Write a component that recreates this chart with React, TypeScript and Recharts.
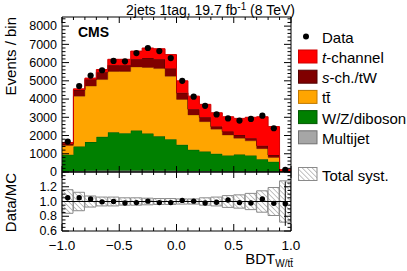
import React from 'react';
import { ComposedChart, Area, Scatter, XAxis, YAxis, Bar, Line, ErrorBar, ReferenceLine } from 'recharts';

const FONT = "'Liberation Sans', Arial, Helvetica, sans-serif";

// ---- data (20 bins of BDT_W/tt, width 0.1) ----
const binLowEdges = [-1.0, -0.9, -0.8, -0.7, -0.6, -0.5, -0.4, -0.3, -0.2, -0.1, 0.0, 0.1, 0.2, 0.3, 0.4, 0.5, 0.6, 0.7, 0.8, 0.9];
const upperEdge = 1.0;
const binCenters = [-0.95, -0.85, -0.75, -0.65, -0.55, -0.45, -0.35, -0.25, -0.15, -0.05, 0.05, 0.15, 0.25, 0.35, 0.45, 0.55, 0.65, 0.75, 0.85, 0.95];

const multijet = [40, 60, 70, 80, 80, 80, 80, 80, 70, 70, 60, 50, 50, 40, 40, 40, 40, 30, 30, 5];
const wzDiboson = [910, 1340, 1570, 1850, 2100, 2050, 2190, 2030, 1890, 1730, 1430, 1170, 1070, 960, 870, 920, 870, 670, 530, 15];
const ttbar = [500, 2760, 3070, 3140, 3330, 3380, 3490, 3620, 3710, 3450, 2490, 1910, 1640, 1350, 1120, 890, 800, 580, 240, 30];
const sChTW = [100, 340, 360, 400, 340, 340, 420, 520, 510, 420, 360, 310, 240, 140, 190, 180, 140, 160, 130, 10];
const tChannel = [70, 60, 80, 150, 330, 330, 450, 550, 580, 770, 660, 720, 710, 760, 810, 910, 1150, 1590, 1560, 70];
const dataEvents = [1670, 4710, 5290, 5580, 6090, 6070, 6520, 6800, 6630, 6250, 5000, 4130, 3630, 3160, 2940, 2820, 2910, 3090, 2400, 120];

const ratioValues = [1.05, 1.05, 1.035, 0.995, 1.0, 0.98, 0.985, 1.005, 0.985, 0.985, 1.015, 1.005, 0.98, 0.99, 1.02, 0.985, 0.98, 1.035, 0.975, 0.97];
const ratioErr = [0.03, 0.015, 0.015, 0.015, 0.013, 0.013, 0.012, 0.012, 0.012, 0.013, 0.014, 0.016, 0.017, 0.018, 0.019, 0.019, 0.019, 0.02, 0.022, 0.3];
const systHalf = [0.16, 0.125, 0.075, 0.06, 0.06, 0.05, 0.05, 0.045, 0.04, 0.04, 0.035, 0.035, 0.05, 0.06, 0.08, 0.09, 0.11, 0.145, 0.19, 0.28];

// ---- ticks ----
const xTicks = Array.from({ length: 21 }, (_, i) => Math.round((-1 + i * 0.1) * 10) / 10);
const mainYTicks = Array.from({ length: 43 }, (_, i) => i * 200);
const ratioYTicks = Array.from({ length: 17 }, (_, i) => Math.round((0.6 + i * 0.05) * 100) / 100);

const COLORS = {
  tch: { fill: '#ff0000', stroke: '#d00000' },
  sch: { fill: '#800000', stroke: '#500000' },
  tt: { fill: '#ffa500', stroke: '#c07800' },
  wz: { fill: '#008000', stroke: '#005800' },
  mj: { fill: '#a6a6a6', stroke: '#707070' },
};

const stackRows = [...binLowEdges, upperEdge].map((x, i) => {
  const j = Math.min(i, binLowEdges.length - 1);
  return { x, mj: multijet[j], wz: wzDiboson[j], tt: ttbar[j], sch: sChTW[j], tch: tChannel[j] };
});
const dataPts = binCenters.map((x, i) => ({ x, y: dataEvents[i] }));
const ratioRows = binCenters.map((x, i) => ({
  c: String(i),
  x,
  band: [1 - systHalf[i], 1 + systHalf[i]],
  r: ratioValues[i],
  err: ratioErr[i],
}));

const isMult = (v: number, step: number) => Math.abs(v / step - Math.round(v / step)) < 1e-6;
const minus = (s: string) => s.replace('-', '\u2212');

type TickOpts = { side: 'l' | 'r' | 't' | 'b'; major: (v: number) => boolean; majLen: number; minLen: number; fmt?: (v: number) => string; fontSize?: number; dy?: number };
const makeTick = (o: TickOpts) => (p: any) => {
  const { x, y, payload } = p;
  const v = payload.value as number;
  const M = o.major(v);
  const len = M ? o.majLen : o.minLen;
  let x2 = x, y2 = y;
  if (o.side === 'l') x2 = x + len;
  if (o.side === 'r') x2 = x - len;
  if (o.side === 'b') y2 = y - len;
  if (o.side === 't') y2 = y + len;
  let label: any = null;
  if (M && o.fmt) {
    if (o.side === 'l') {
      label = <text x={x - 5} y={y} dy={`${o.dy ?? 0.35}em`} textAnchor="end" fontSize={o.fontSize} fontFamily={FONT} fill="#000">{o.fmt(v)}</text>;
    } else if (o.side === 'b') {
      label = <text x={x} y={y + (o.dy ?? 16)} textAnchor="middle" fontSize={o.fontSize} fontFamily={FONT} fill="#000">{o.fmt(v)}</text>;
    }
  }
  return (
    <g>
      <line x1={x} y1={y} x2={x2} y2={y2} stroke="#000" strokeWidth={1} />
      {label}
    </g>
  );
};

const axisCommon = { tickLine: false, tickSize: 0, tickMargin: 0, interval: 0 as const, axisLine: { stroke: '#000', strokeWidth: 1 }, allowDataOverflow: true };

const DataDot = (p: any) => <circle cx={p.cx} cy={p.cy} r={3.1} fill="#000" />;
const RatioDot = (p: any) => (p.cx == null ? <g key={p.index} /> : <circle key={p.index} cx={p.cx} cy={p.cy} r={2.7} fill="#000" />);

const legendItems = [
  { key: 'tch', label: [<tspan key="a" fontStyle="italic">t</tspan>, '-channel'] },
  { key: 'sch', label: [<tspan key="a" fontStyle="italic">s</tspan>, '-ch./tW'] },
  { key: 'tt', label: ['t', 't\u0304'] },
  { key: 'wz', label: ['W/Z/diboson'] },
  { key: 'mj', label: ['Multijet'] },
];

// plot frames: main x 62..291, y 17..172 ; ratio y 172..231
export default function App() {
  const xMajor = (v: number) => isMult(v, 0.5);
  return (
    <div style={{ position: 'absolute', left: 0, top: 0, width: 407, height: 271, background: '#fff', overflow: 'hidden' }}>
      <div style={{ position: 'absolute', left: 0, top: 0 }}>
        <ComposedChart width={407} height={271} data={stackRows} margin={{ top: 16, right: 115, bottom: 98, left: 61 }}>
          <XAxis xAxisId="b" dataKey="x" type="number" domain={[-1, 1]} ticks={xTicks} height={1} {...axisCommon}
            tick={makeTick({ side: 'b', major: xMajor, majLen: 6, minLen: 3 })} />
          <XAxis xAxisId="t" orientation="top" dataKey="x" type="number" domain={[-1, 1]} ticks={xTicks} height={1} {...axisCommon}
            tick={makeTick({ side: 't', major: xMajor, majLen: 6, minLen: 3 })} />
          <YAxis yAxisId="l" type="number" domain={[0, 8500]} ticks={mainYTicks} width={1} {...axisCommon}
            tick={makeTick({ side: 'l', major: (v) => isMult(v, 1000), majLen: 7, minLen: 3.5, fmt: (v) => String(v), fontSize: 12.5 })} />
          <YAxis yAxisId="r" orientation="right" type="number" domain={[0, 8500]} ticks={mainYTicks} width={1} {...axisCommon}
            tick={makeTick({ side: 'r', major: (v) => isMult(v, 1000), majLen: 7, minLen: 3.5 })} />
          {(['mj', 'wz', 'tt', 'sch', 'tch'] as const).map((k) => (
            <Area key={k} xAxisId="b" yAxisId="l" dataKey={k} stackId="s" type="stepAfter"
              fill={COLORS[k].fill} fillOpacity={1} stroke={COLORS[k].stroke} strokeWidth={1}
              dot={false} activeDot={false} isAnimationActive={false} />
          ))}
          <Scatter xAxisId="b" yAxisId="l" data={dataPts} dataKey="y" shape={DataDot} isAnimationActive={false} />
        </ComposedChart>
      </div>
      <div style={{ position: 'absolute', left: 0, top: 0 }}>
        <ComposedChart width={407} height={271} data={ratioRows} margin={{ top: 171, right: 115, bottom: 39, left: 61 }} barCategoryGap={0} barGap={0}>
          <XAxis xAxisId="cat" dataKey="c" type="category" hide />
          <XAxis xAxisId="b" dataKey="x" type="number" domain={[-1, 1]} ticks={xTicks} height={1} {...axisCommon}
            tick={makeTick({ side: 'b', major: xMajor, majLen: 7, minLen: 3.5, fmt: (v) => minus(v.toFixed(1)), fontSize: 13.5, dy: 19 })} />
          <XAxis xAxisId="t" orientation="top" dataKey="x" type="number" domain={[-1, 1]} ticks={xTicks} height={1} {...axisCommon}
            tick={makeTick({ side: 't', major: xMajor, majLen: 6, minLen: 3 })} />
          <YAxis yAxisId="l" type="number" domain={[0.6, 1.4]} ticks={ratioYTicks} width={1} {...axisCommon}
            tick={makeTick({ side: 'l', major: (v) => isMult(v, 0.2) && v < 1.39, majLen: 7, minLen: 3.5, fmt: (v) => v.toFixed(1), fontSize: 12.5, dy: 0.32 })} />
          <YAxis yAxisId="r" orientation="right" type="number" domain={[0.6, 1.4]} ticks={ratioYTicks} width={1} {...axisCommon}
            tick={makeTick({ side: 'r', major: (v) => isMult(v, 0.2) && v < 1.39, majLen: 7, minLen: 3.5 })} />
          <Bar xAxisId="cat" yAxisId="l" dataKey="band" fill="url(#hatchSyst)" stroke="#8a8a8a" strokeWidth={1} isAnimationActive={false} />
          <ReferenceLine xAxisId="b" yAxisId="l" y={1} stroke="#000" strokeWidth={1} ifOverflow="visible" />
          <Line xAxisId="cat" yAxisId="l" dataKey="r" stroke="none" strokeWidth={0} dot={RatioDot} activeDot={false} isAnimationActive={false}>
            <ErrorBar dataKey="err" direction="y" width={0} stroke="#000" strokeWidth={1} />
          </Line>
        </ComposedChart>
      </div>
      <svg width={407} height={271} style={{ position: 'absolute', left: 0, top: 0, pointerEvents: 'none' }} fontFamily={FONT}>
        <defs>
          <pattern id="hatchSyst" patternUnits="userSpaceOnUse" width="3.5" height="3.5" patternTransform="rotate(-45)">
            <rect width="3.5" height="3.5" fill="#fff" />
            <line x1="0" y1="0" x2="0" y2="3.5" stroke="#777" strokeWidth="0.9" />
          </pattern>
        </defs>
        <text x={295} y={15} textAnchor="end" fontSize={14} fill="#000">
          2jets 1tag, 19.7 fb<tspan dy={-5} fontSize={10}>-1</tspan><tspan dy={5}> (8 TeV)</tspan>
        </text>
        <text x={78} y={37} fontSize={14} fontWeight="bold" fill="#000">CMS</text>
        <text transform="translate(15.5,17) rotate(-90)" textAnchor="end" fontSize={15} fill="#000">Events / bin</text>
        <text transform="translate(15.5,173) rotate(-90)" textAnchor="end" fontSize={15} fill="#000">Data/MC</text>
        <text x={293} y={264} textAnchor="end" fontSize={15} fill="#000">BDT<tspan fontSize={10} dy={3}>W/t{'t\u0304'}</tspan></text>
        {/* legend */}
        <circle cx={306} cy={36.5} r={3} fill="#000" />
        <text x={322} y={43} fontSize={15} fill="#000">Data</text>
        {legendItems.map((it, i) => {
          const top = 50 + i * 20.2;
          const c = COLORS[it.key as keyof typeof COLORS];
          return (
            <g key={it.key}>
              <rect x={298.5} y={top} width={18.5} height={13} fill={c.fill} stroke={c.stroke} strokeWidth={1} />
              <text x={322} y={top + 13} fontSize={15} fill="#000">{it.label}</text>
            </g>
          );
        })}
        <rect x={298.5} y={167.5} width={18.5} height={13} fill="url(#hatchSyst)" stroke="#8a8a8a" strokeWidth={1} />
        <text x={322} y={180.5} fontSize={15} fill="#000">Total syst.</text>
      </svg>
    </div>
  );
}
